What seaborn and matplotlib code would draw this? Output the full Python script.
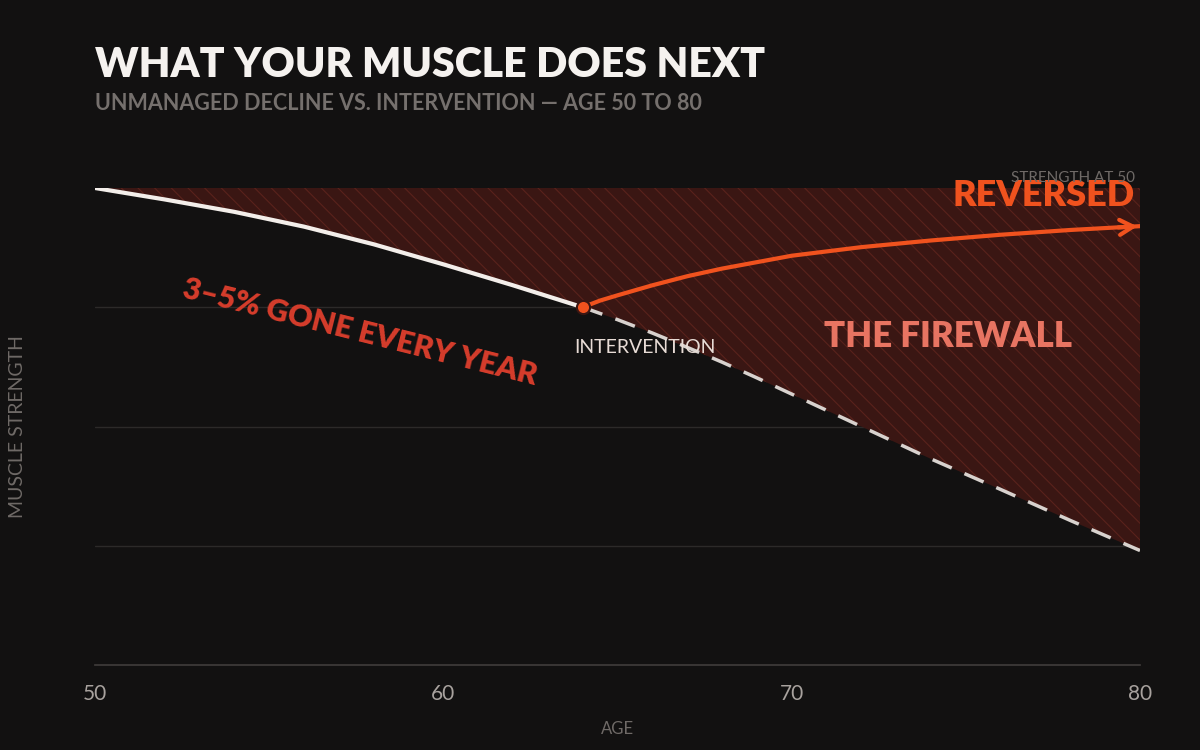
import numpy as np
import pandas as pd
import matplotlib
matplotlib.use("Agg")
import matplotlib.pyplot as plt
import seaborn as sns

age = [50, 52, 54, 56, 58, 60, 62, 64, 65, 66, 67, 68, 69, 70, 72, 74, 76, 78, 80]
decline = [100, 97.6, 95.0, 91.9, 88.2, 84.0, 79.6, 75.0, 72.4, 69.6, 66.6, 63.5, 60.2, 56.8,
           50.0, 43.2, 36.8, 30.3, 24.0]
int_age = [64, 64.5, 65, 66, 67, 68, 70, 72, 74, 76, 78, 80]
intervention = [75, 76.4, 77.5, 79.6, 81.5, 83.1, 85.8, 87.6, 89.0, 90.2, 91.2, 92.0]
xticks = [50, 60, 70, 80]

BG = "#121111"
HATCH = "#5a221c"
sns.set_theme(style="dark")
plt.rcParams['font.family'] = ['Lato', 'DejaVu Sans']
plt.rcParams['hatch.color'] = HATCH
plt.rcParams['hatch.linewidth'] = 0.8

fig = plt.figure(figsize=(12, 7.5), dpi=100, facecolor=BG)
ax = fig.add_axes([95/1200, 1-665/750, 1045/1200, 477/750])
ax.set_facecolor(BG)
ax.set_xlim(50, 80)
ax.set_ylim(0, 100)

for y in [25, 50, 75]:
    ax.axhline(y, color="#2c2a29", lw=1, zorder=0)
ax.axhline(100, color="#4a4746", lw=1, zorder=0)

ax.fill_between(age, decline, 100, facecolor="#3a1613", edgecolor=HATCH,
                hatch="\\\\", lw=0, zorder=1)

d = pd.DataFrame({"age": age, "v": decline})
pre = d[d.age <= 64]
post = d[d.age >= 64]
sns.lineplot(data=pre, x="age", y="v", ax=ax, color="#f3eeea", lw=3, zorder=3)
sns.lineplot(data=post, x="age", y="v", ax=ax, color="#d8d2ce", lw=2.5, zorder=3)
ax.lines[-1].set_dashes((6, 4))

di = pd.DataFrame({"age": int_age, "v": intervention})
sns.lineplot(data=di, x="age", y="v", ax=ax, color="#f0521e", lw=3, zorder=4)
ax.annotate("", xy=(80, 92), xytext=(79.3, 91.7),
            arrowprops=dict(arrowstyle="->,head_length=0.8,head_width=0.45", color="#f0521e", lw=3),
            annotation_clip=False, zorder=5)
ax.scatter([64], [75], s=90, color="#f0521e", edgecolor="#3a1613", lw=1.5, zorder=6)

ax.text(63.75, 66.5, "INTERVENTION", color="#e8dcd6", fontsize=14, ha="left", va="center")
ax.text(57.6, 69.8, "3–5% GONE EVERY YEAR", color="#d63d2c", fontsize=22, fontweight="heavy",
        rotation=-14, ha="center", va="center")
ax.text(74.5, 68.8, "THE FIREWALL", color="#e87462", fontsize=25, fontweight="heavy",
        ha="center", va="center")
ax.text(79.85, 98.4, "REVERSED", color="#f0521e", fontsize=26, fontweight="heavy",
        ha="right", va="center")
ax.text(79.85, 100.6, "STRENGTH AT 50", color="#6f6a67", fontsize=11, ha="right", va="bottom")

ax.set_xticks(xticks)
ax.set_xticklabels([str(t) for t in xticks], color="#a8a29e", fontsize=15)
ax.set_yticks([])
ax.tick_params(axis="x", length=6, color="#4a4746", pad=8)
for s in ["top", "right", "left"]:
    ax.spines[s].set_visible(False)
ax.spines["bottom"].set_color("#3e3b3a")
ax.set_xlabel("AGE", color="#6f6a67", fontsize=12, labelpad=12)
ax.set_ylabel("MUSCLE STRENGTH", color="#6f6a67", fontsize=14, labelpad=50)

fig.text(95/1200, 1-65/750, "WHAT YOUR MUSCLE DOES NEXT", color="#f5f2ef", fontsize=29.5,
         fontweight="heavy", va="center")
fig.text(95/1200, 1-104/750, "UNMANAGED DECLINE VS. INTERVENTION — AGE 50 TO 80",
         color="#75706d", fontsize=15.5, fontweight="bold", va="center")

fig.savefig("out.png", dpi=100, facecolor=BG)
